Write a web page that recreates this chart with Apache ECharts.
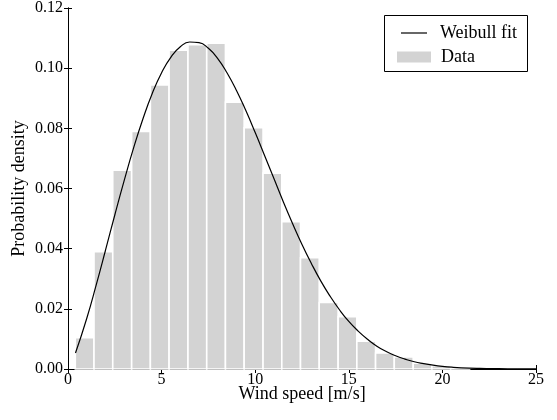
<!DOCTYPE html>
<html>
<head>
<meta charset="utf-8">
<script src="https://cdn.jsdelivr.net/npm/echarts@6/dist/echarts.min.js"></script>
<style>
html,body{margin:0;padding:0;background:#fff;}
#chart{width:557px;height:420px;}
</style>
</head>
<body>
<div id="chart"></div>
<script>
// Histogram bin edges (m/s) and densities
var binEdges = [0.39,1.39,2.39,3.40,4.40,5.40,6.41,7.41,8.41,9.41,10.42,11.42,12.42,13.42,14.43,15.43,16.43,17.43,18.44,19.44,20.44,21.45];
var binDensity = [0.0104,0.0390,0.0661,0.0790,0.0944,0.1060,0.1078,0.1083,0.0887,0.0802,0.0651,0.0490,0.0370,0.0221,0.0174,0.0092,0.0053,0.0040,0.0019,0.0011,0.0004];

// Weibull fit curve
var fitX = [0.4,1,1.5,2,2.5,3,3.5,4,4.5,5,5.5,6,6.5,7,7.5,8,8.5,9,9.5,10,10.5,11,11.5,12,12.5,13,13.5,14,14.5,15,15.5,16,16.5,17,17.5,18,18.5,19,19.5,20,20.5,21,22,23,24,25];
var fitY = [0.0053,0.0168,0.0278,0.0394,0.0512,0.0626,0.0734,0.0831,0.0916,0.0985,0.1037,0.1071,0.1087,0.1085,0.1066,0.1032,0.0984,0.0926,0.0859,0.0786,0.0710,0.0633,0.0556,0.0483,0.0414,0.0351,0.0293,0.0242,0.0197,0.0158,0.0126,0.0099,0.0076,0.0058,0.0044,0.0033,0.0024,0.0018,0.0013,0.0009,0.0006,0.0004,0.0002,0.0001,0.00004,0.00001];

var xTicks = [0,5,10,15,20,25];
var yTicks = [0,0.02,0.04,0.06,0.08,0.10,0.12];

var FONT = 'Liberation Serif';

var histData = binDensity.map(function(v,i){ return [binEdges[i], binEdges[i+1], v]; });
var fitData = fitX.map(function(x,i){ return [x, fitY[i]]; });

var chart = echarts.init(document.getElementById('chart'), null, {renderer:'canvas'});

var axisCommon = {
  axisLine:{show:true, lineStyle:{color:'#000', width:1}},
  axisTick:{show:true, inside:true, length:4, lineStyle:{color:'#000', width:1}},
  splitLine:{show:false}
};

var option = {
  backgroundColor:'#fff',
  animation:false,
  textStyle:{fontFamily:FONT},
  grid:{left:68, right:21, top:8, bottom:51, containLabel:false},
  xAxis:[
    Object.assign({}, axisCommon, {
      type:'value', min:xTicks[0], max:xTicks[xTicks.length-1], interval:5, position:'bottom',
      axisLabel:{color:'#000', fontFamily:FONT, fontSize:16, margin:3},
      name:'Wind speed [m/s]', nameLocation:'middle', nameGap:16, nameMoveOverlap:false,
      nameTextStyle:{color:'#000', fontFamily:FONT, fontSize:18}
    }),
    Object.assign({}, axisCommon, {
      type:'value', min:xTicks[0], max:xTicks[xTicks.length-1], interval:5, position:'top',
      axisLabel:{show:false}
    })
  ],
  yAxis:[
    Object.assign({}, axisCommon, {
      type:'value', min:yTicks[0], max:yTicks[yTicks.length-1], interval:0.02, position:'left',
      axisLabel:{color:'#000', fontFamily:FONT, fontSize:16, margin:5,
        formatter:function(v){ return v.toFixed(2); }},
      name:'Probability density', nameLocation:'middle', nameGap:40, nameRotate:90, nameMoveOverlap:false,
      nameTextStyle:{color:'#000', fontFamily:FONT, fontSize:18}
    }),
    Object.assign({}, axisCommon, {
      type:'value', min:yTicks[0], max:yTicks[yTicks.length-1], interval:0.02, position:'right',
      axisLabel:{show:false}
    })
  ],
  legend:[
    {
      data:[{name:'Weibull fit', icon:'path://M0,0H26V1.2H0Z'}],
      left:396, top:19, orient:'vertical',
      itemWidth:26, itemHeight:14,
      textStyle:{color:'#000', fontFamily:FONT, fontSize:18, padding:[0,0,0,8]},
      selectedMode:false
    },
    {
      data:[{name:'Data', icon:'rect'}],
      left:392, top:43, orient:'vertical',
      itemWidth:34, itemHeight:11,
      textStyle:{color:'#000', fontFamily:FONT, fontSize:18, padding:[0,0,0,5]},
      selectedMode:false
    }
  ],
  graphic:[
    {type:'rect', left:384, top:15, z:3,
     shape:{width:143, height:56},
     style:{fill:'#fff', stroke:'#000', lineWidth:1}}
  ],
  series:[
    {
      name:'Data', type:'custom',
      itemStyle:{color:'#d3d3d3'},
      encode:{x:[0,1], y:2},
      data:histData,
      renderItem:function(params, api){
        var p0 = api.coord([api.value(0), api.value(2)]);
        var p1 = api.coord([api.value(1), 0]);
        return {
          type:'rect',
          shape:{x:p0[0], y:p0[1], width:p1[0]-p0[0], height:p1[1]-p0[1]},
          style:{fill:'#d3d3d3', stroke:'#fff', lineWidth:1.6}
        };
      },
      z:1
    },
    {
      name:'Weibull fit', type:'line', smooth:true, symbol:'none',
      data:fitData,
      lineStyle:{color:'#000', width:1.2},
      itemStyle:{color:'#000'},
      z:2
    }
  ]
};
chart.setOption(option);
</script>
</body>
</html>
